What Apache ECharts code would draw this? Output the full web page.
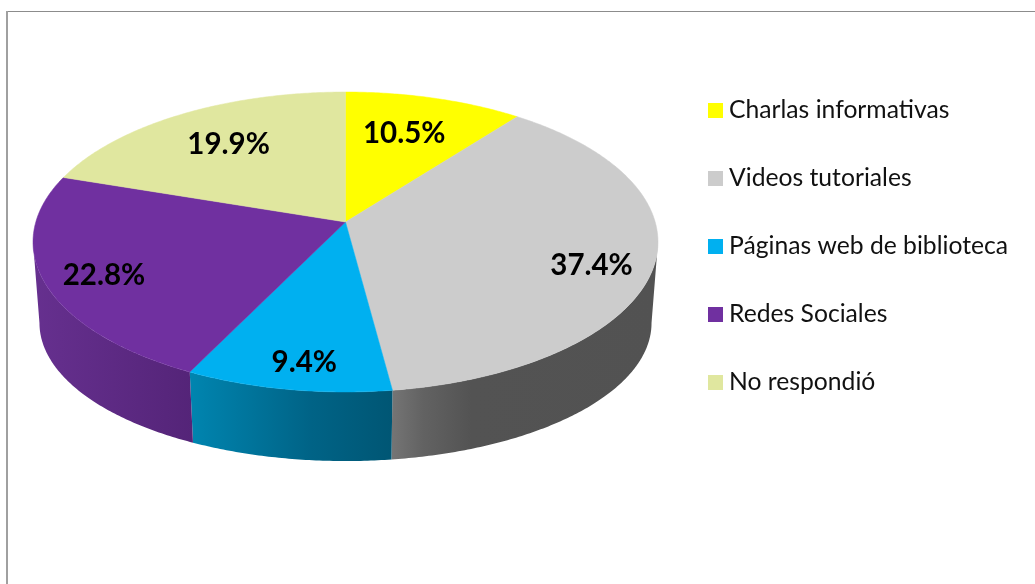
<!DOCTYPE html>
<html>
<head>
<meta charset="utf-8">
<style>html,body{margin:0;padding:0;background:#fff}#c{width:1035px;height:584px}</style>
<script src="https://cdn.jsdelivr.net/npm/echarts@6/dist/echarts.min.js"></script>
</head>
<body>
<div id="c"></div>
<script>
// Data
const categories = ['Charlas informativas', 'Videos tutoriales', 'Páginas web de biblioteca', 'Redes Sociales', 'No respondió'];
const values = [10.5, 37.4, 9.4, 22.8, 19.9];

// Styles
const topColors = ['#ffff00', '#cccccc', '#00b0f0', '#7030a0', '#e0e79f'];
const wallStops = [
  [[0, '#b0b000'], [1, '#808000']],
  [[0, '#757575'], [0.12, '#626262'], [0.3, '#535353'], [1, '#525252']],
  [[0, '#0085b0'], [0.6, '#006386'], [1, '#005674']],
  [[0, '#66308f'], [1, '#542478']],
  [[0, '#a0a570'], [1, '#80855a']]
];

// Layout: perspective projection of the pie disc
const CX = 345.5, K = 0.1333;
const TOP = { rx: 309.7, ry: 147.3, ay: 222 };
const BOTTOM = { rx: 303.3, ry: 135.6, ay: 304.6 };
const labelRadius = [0.69, 0.8, 0.85, 0.81, 0.7];
const labelShift = [[-5, 0], [0, 12], [7, 1], [0, 5], [1, 0]];
const total = values.reduce((a, b) => a + b, 0);
const SIL = Math.acos(-K); // silhouette angle of the disc edge

function project(p, theta, r) {
  const x = Math.sin(theta) * r, y = Math.cos(theta) * r, w = 1 + K * y;
  return [CX + p.rx * x / w, p.ay - p.ry * y / w];
}
function arc(p, a, b) {
  const n = Math.max(2, Math.ceil((b - a) / 0.01)), pts = [];
  for (let i = 0; i <= n; i++) pts.push(project(p, a + (b - a) * i / n, 1));
  return pts;
}

function renderSlice(idx) {
  return function (params, api) {
    const value = api.value(0);
    const before = values.slice(0, idx).reduce((a, b) => a + b, 0);
    const a = before / total * 2 * Math.PI;
    const b = a + value / total * 2 * Math.PI;
    const children = [];
    const wa = Math.max(a, SIL), wb = Math.min(b, 2 * Math.PI - SIL);
    if (wb > wa) {
      const pts = arc(TOP, wa, wb).concat(arc(BOTTOM, wa, wb).reverse());
      children.push({
        type: 'polygon',
        shape: { points: pts },
        style: {
          fill: {
            type: 'linear', x: 0, y: 0, x2: 1, y2: 0,
            colorStops: wallStops[idx].map(s => ({ offset: s[0], color: s[1] }))
          }
        }
      });
    }
    children.push({
      type: 'polygon',
      shape: { points: [[CX, TOP.ay]].concat(arc(TOP, a, b)) },
      style: { fill: topColors[idx], stroke: topColors[idx], lineWidth: 0.5 }
    });
    const lp = project(TOP, (a + b) / 2, labelRadius[idx]);
    children.push({
      type: 'text',
      style: {
        text: value.toFixed(1) + '%',
        x: lp[0] + labelShift[idx][0],
        y: lp[1] + labelShift[idx][1],
        fill: '#000',
        font: 'bold 29.5px Lato',
        align: 'center',
        verticalAlign: 'middle'
      }
    });
    return { type: 'group', children: children };
  };
}

const chart = echarts.init(document.getElementById('c'), null, { renderer: 'canvas' });
chart.setOption({
  animation: false,
  backgroundColor: '#ffffff',
  legend: {
    orient: 'vertical',
    left: 703,
    top: 93,
    icon: 'rect',
    itemWidth: 15,
    itemHeight: 15,
    itemGap: 43,
    itemStyle: { borderWidth: 0 },
    textStyle: { fontFamily: 'Lato', fontSize: 24.7, color: '#111', padding: [0, 0, 0, 1] },
    data: categories
  },
  graphic: [
    { type: 'rect', shape: { x: 6, y: 11, width: 1029, height: 1 }, style: { fill: '#8c8c8c' } },
    { type: 'rect', shape: { x: 6, y: 11, width: 2, height: 573 }, style: { fill: '#a0a0a0' } }
  ],
  series: categories.map((name, i) => ({
    type: 'custom',
    name: name,
    coordinateSystem: 'none',
    silent: true,
    itemStyle: { color: topColors[i] },
    renderItem: renderSlice(i),
    data: [[values[i]]]
  }))
});
</script>
</body>
</html>
